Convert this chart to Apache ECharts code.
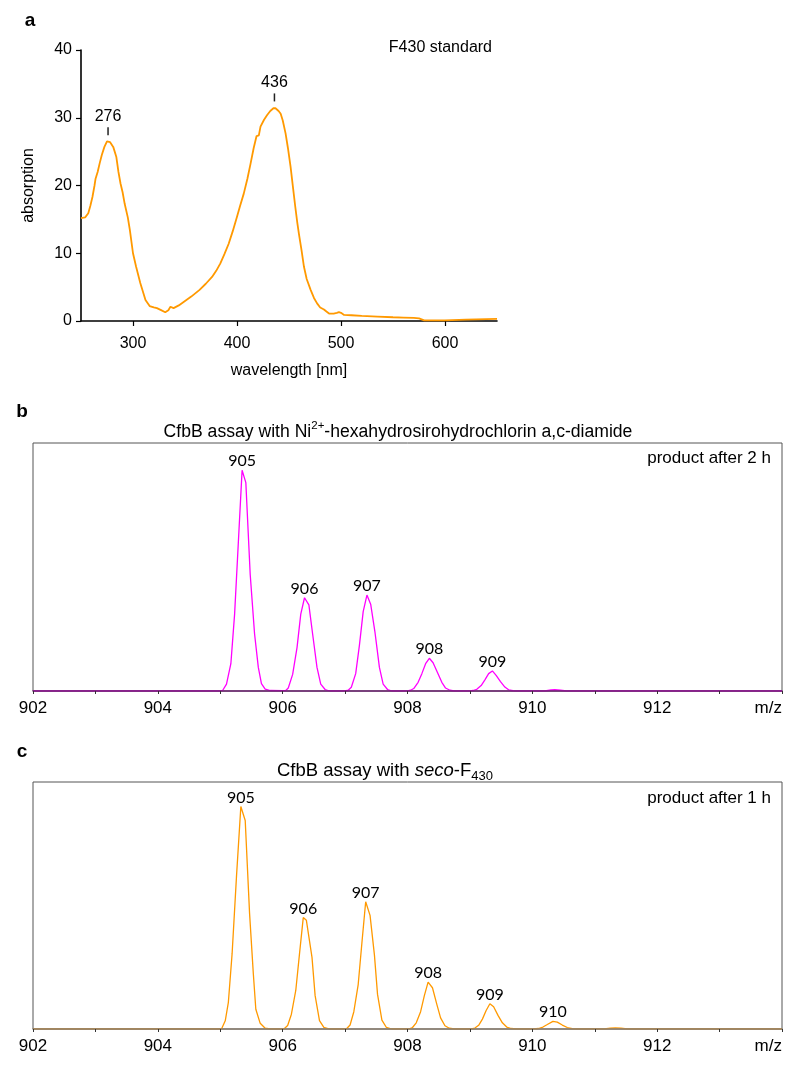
<!DOCTYPE html>
<html><head><meta charset="utf-8">
<script src="https://cdn.jsdelivr.net/npm/echarts@6/dist/echarts.min.js"></script>
<style>html,body{margin:0;padding:0;background:#fff}#c{width:800px;height:1074px}</style>
</head><body><div id="c"></div>
<script>
// ---------- Panel a: UV-vis spectrum (wavelength nm, absorption) ----------
const spectrumA = [
 [250,15.2],[254,15.3],[257,15.9],[259,17.0],[261,18.3],[263,20.0],[264,21.0],[266,22.0],[268,23.3],[270,24.5],
 [272.5,25.7],[275,26.5],[276,26.6],[278,26.4],[281,25.7],[284,24.2],[286,22.0],[288,20.3],[290,19.0],[292,17.3],
 [295,15.3],[297,13.4],[300,10.0],[303,8.0],[307,5.6],[312,3.1],[316,2.2],[320,2.0],[323,1.9],[327,1.6],
 [331,1.3],[334,1.6],[336,2.1],[337.5,2.3],[339,1.9],[340,1.9],[344,2.3],[349,2.85],[356,3.6],[364,4.6],
 [370,5.5],[376,6.5],[380,7.4],[384,8.5],[388,9.9],[392,11.4],[396,13.3],[400,15.4],[403,17.0],[406.5,18.8],
 [410,21.0],[413,23.2],[416,25.5],[418.8,27.3],[420,27.4],[421,27.4],[422.6,28.7],[426,29.7],[429,30.4],[432,31.0],
 [435,31.4],[437,31.4],[440,31.0],[442,30.6],[444,29.6],[446.7,27.7],[449,25.5],[451.5,22.8],[454,19.5],[456,16.9],
 [458,14.5],[459.5,12.9],[462,10.5],[464.4,8.0],[467,6.2],[470.8,4.6],[474,3.4],[477,2.6],[480,2.0],[483.6,1.7],
 [486,1.4],[488.5,1.1],[491,1.1],[493,1.1],[496,1.2],[498,1.3],[500,1.2],[503,0.9],[510,0.85],[520,0.75],
 [535,0.65],[550,0.55],[560,0.5],[570,0.45],[575,0.4],[580,0.1],[590,0.1],[600,0.1],[620,0.2],[650,0.3]
];
const peaksA = [[276, 28.0, '276'], [436, 33.0, '436']];
const xTicksA = [300, 400, 500, 600];

// ---------- Panel b: MS, product after 2 h (m/z, relative intensity) ----------
const spectrumB = [
 [902,0],[905.0,0],
 [905.04,0.3],[905.10,2.8],[905.17,11],[905.23,31],[905.29,60],[905.35,89],[905.41,84],[905.48,47],[905.55,23],[905.61,9.5],[905.66,3],[905.72,0.8],[905.80,0.2],[906.0,0.1],
 [906.05,0.2],[906.09,1.2],[906.16,6.7],[906.23,17.5],[906.29,31],[906.35,37.6],[906.42,34.7],[906.48,23],[906.55,9.5],[906.61,2.8],[906.68,0.6],[906.75,0],
 [907.0,0],[907.05,0.3],[907.10,1.5],[907.17,7],[907.23,18.5],[907.29,32],[907.35,38.7],[907.41,35],[907.48,23.5],[907.55,9.5],[907.61,2.8],[907.68,0.6],[907.75,0],
 [908.0,0],[908.05,0.3],[908.10,1],[908.17,3.5],[908.23,7],[908.29,11],[908.35,13.2],[908.41,11.4],[908.48,7.5],[908.55,3.5],[908.61,1.2],[908.68,0.3],[908.75,0],
 [909.0,0],[909.05,0.2],[909.11,0.7],[909.18,2.2],[909.24,4.5],[909.30,7],[909.36,8.1],[909.42,6.3],[909.49,3.8],[909.56,1.6],[909.62,0.5],[909.69,0.1],[909.76,0],
 [910.2,0],[910.3,0.4],[910.36,0.5],[910.45,0.3],[910.55,0],[914,0]
];
const peaksB = [[905.35,89,'905'],[906.35,37.6,'906'],[907.35,38.7,'907'],[908.35,13.2,'908'],[909.36,8.1,'909']];

// ---------- Panel c: MS, product after 1 h ----------
const spectrumC = [
 [902,0],[905.02,0],
 [905.08,3.3],[905.13,10.8],[905.19,30.5],[905.26,61.7],[905.33,90.1],[905.40,84.4],[905.47,46.7],[905.53,22.4],[905.57,8],[905.64,2.3],[905.72,0.3],[905.8,0],
 [906.02,0],[906.08,1.4],[906.14,6],[906.21,15.6],[906.27,30.5],[906.33,45.1],[906.38,44],[906.47,29],[906.52,13.5],[906.59,3.4],[906.66,0.7],[906.75,0],
 [907.02,0],[907.08,1.6],[907.14,7],[907.21,18],[907.27,35],[907.33,51.5],[907.40,46],[907.47,30],[907.52,14],[907.59,3.6],[907.66,0.7],[907.75,0],
 [908.02,0],[908.08,0.6],[908.14,2.5],[908.21,7],[908.27,13.5],[908.33,19],[908.40,16.7],[908.47,10],[908.53,4.5],[908.60,1.3],[908.67,0.3],[908.75,0],
 [909.02,0],[909.08,0.4],[909.14,1.5],[909.20,4],[909.26,7.5],[909.32,10.2],[909.38,9],[909.45,5.5],[909.52,2.5],[909.59,0.8],[909.66,0.2],[909.75,0],
 [910.02,0],[910.10,0.2],[910.17,0.8],[910.24,1.8],[910.33,3.1],[910.40,2.8],[910.48,1.6],[910.56,0.6],[910.64,0.1],[910.72,0],
 [911.15,0],[911.25,0.3],[911.33,0.45],[911.42,0.3],[911.52,0],[914,0]
];
const peaksC = [[905.33,90.1,'905'],[906.33,45.1,'906'],[907.33,51.5,'907'],[908.33,19,'908'],[909.32,10.2,'909'],[910.33,3.1,'910']];

const ARIAL = "'Liberation Sans', Arial, sans-serif";
const CALIBRI = "Lato, 'Open Sans', sans-serif";
const ORANGE = '#FF9900';
const MAGENTA = '#FF00FF';

function msXAxis(gridIndex, axisColor) {
  return {
    type: 'value', gridIndex, min: 902, max: 914, interval: 2, z: 5,
    axisLine: { show: true, onZero: false, lineStyle: { color: axisColor, width: 1.5 } },
    axisTick: { show: true, length: 3, inside: false, lineStyle: { color: '#333' } },
    minorTick: { show: true, splitNumber: 2, length: 3, lineStyle: { color: '#333' } },
    splitLine: { show: false }, minorSplitLine: { show: false },
    axisLabel: { color: '#000', fontFamily: ARIAL, fontSize: 17, margin: 9, alignMaxLabel: 'right',
      formatter: v => (v === 914 ? 'm/z' : String(v)) }
  };
}
function msYAxis(gridIndex) {
  return { type: 'value', gridIndex, min: 0, max: 100, show: false, splitLine: { show: false } };
}
function peakLabels(data, xi, yi, dist) {
  return {
    type: 'scatter', xAxisIndex: xi, yAxisIndex: yi, symbolSize: 0, silent: true,
    itemStyle: { color: '#000', opacity: 1 }, z: 6,
    data: data.map(p => [p[0], p[1]]),
    label: { show: true, position: 'top', distance: dist, color: '#000', opacity: 1, fontFamily: CALIBRI, fontSize: 16,
      formatter: p => data[p.dataIndex][2] }
  };
}

const chart = echarts.init(document.getElementById('c'), null, { renderer: 'canvas' });
chart.setOption({
  animation: false,
  backgroundColor: '#fff',
  grid: [
    { left: 81, top: 50, width: 416, height: 271, show: false },
    { left: 33, top: 443, width: 749, height: 248, show: true, borderColor: '#555', borderWidth: 1 },
    { left: 33, top: 782, width: 749, height: 247, show: true, borderColor: '#555', borderWidth: 1 }
  ],
  xAxis: [
    {
      type: 'value', gridIndex: 0, min: 250, max: 650,
      name: 'wavelength [nm]', nameLocation: 'middle', nameGap: 42,
      nameTextStyle: { fontFamily: ARIAL, fontSize: 16, color: '#000' },
      axisLine: { show: true, onZero: false, lineStyle: { color: '#000', width: 1.6 } },
      axisTick: { show: true, length: 5, customValues: xTicksA, lineStyle: { color: '#000', width: 1.2 } },
      axisLabel: { customValues: xTicksA, fontFamily: ARIAL, fontSize: 16, color: '#000', margin: 15 },
      splitLine: { show: false }
    },
    msXAxis(1, '#6a1f6e'),
    msXAxis(2, '#8a7f70')
  ],
  yAxis: [
    {
      type: 'value', gridIndex: 0, min: 0, max: 40, interval: 10,
      name: 'absorption', nameLocation: 'middle', nameGap: 44, nameRotate: 90,
      nameTextStyle: { fontFamily: ARIAL, fontSize: 16, color: '#000' },
      axisLine: { show: true, onZero: false, lineStyle: { color: '#000', width: 1.6 } },
      axisTick: { show: true, length: 5, lineStyle: { color: '#000', width: 1.2 } },
      axisLabel: { fontFamily: ARIAL, fontSize: 16, color: '#000', margin: 9 },
      splitLine: { show: false }
    },
    msYAxis(1),
    msYAxis(2)
  ],
  series: [
    { type: 'line', xAxisIndex: 0, yAxisIndex: 0, data: spectrumA, showSymbol: false, symbol: 'none',
      lineStyle: { color: ORANGE, width: 1.8 }, silent: true },
    { type: 'scatter', xAxisIndex: 0, yAxisIndex: 0, symbol: 'rect', symbolSize: [1.5, 8], silent: true,
      itemStyle: { color: '#222', opacity: 1 },
      data: peaksA.map(p => [p[0], p[1]]),
      label: { show: true, position: 'top', distance: 3, color: '#000', opacity: 1, fontFamily: ARIAL, fontSize: 16,
        formatter: p => peaksA[p.dataIndex][2] } },
    { type: 'line', xAxisIndex: 1, yAxisIndex: 1, data: spectrumB, showSymbol: false, symbol: 'none',
      lineStyle: { color: MAGENTA, width: 1.3 }, silent: true },
    peakLabels(peaksB, 1, 1, 1),
    { type: 'line', xAxisIndex: 2, yAxisIndex: 2, data: spectrumC, showSymbol: false, symbol: 'none',
      lineStyle: { color: ORANGE, width: 1.3 }, silent: true },
    peakLabels(peaksC, 2, 2, 1)
  ],
  graphic: [
    { type: 'text', x: 30, y: 21, style: { text: 'a', font: "bold 19px " + ARIAL, fill: '#000', textAlign: 'center', textVerticalAlign: 'middle' } },
    { type: 'text', x: 492, y: 48, style: { text: 'F430 standard', font: "16px " + ARIAL, fill: '#000', textAlign: 'right', textVerticalAlign: 'middle' } },
    { type: 'text', x: 22, y: 412, style: { text: 'b', font: "bold 19px " + ARIAL, fill: '#000', textAlign: 'center', textVerticalAlign: 'middle' } },
    { type: 'text', x: 398, y: 432, style: {
        text: 'CfbB assay with Ni{sup|2+}-hexahydrosirohydrochlorin a,c-diamide',
        font: "17.6px " + ARIAL, fill: '#000', textAlign: 'center', textVerticalAlign: 'middle', lineHeight: 24,
        rich: { sup: { fontSize: 11.5, fontFamily: ARIAL, verticalAlign: 'top', lineHeight: 12 } } } },
    { type: 'text', x: 771, y: 458, style: { text: 'product after 2 h', font: "17px " + ARIAL, fill: '#000', textAlign: 'right', textVerticalAlign: 'middle' } },
    { type: 'text', x: 22, y: 752, style: { text: 'c', font: "bold 19px " + ARIAL, fill: '#000', textAlign: 'center', textVerticalAlign: 'middle' } },
    { type: 'text', x: 385, y: 771, style: {
        text: 'CfbB assay with {it|seco}-F{sub|430}',
        font: "18.5px " + ARIAL, fill: '#000', textAlign: 'center', textVerticalAlign: 'middle', lineHeight: 24,
        rich: { it: { fontStyle: 'italic', fontSize: 18.5, fontFamily: ARIAL },
                sub: { fontSize: 13, fontFamily: ARIAL, verticalAlign: 'bottom', lineHeight: 12 } } } },
    { type: 'text', x: 771, y: 798, style: { text: 'product after 1 h', font: "17px " + ARIAL, fill: '#000', textAlign: 'right', textVerticalAlign: 'middle' } }
  ]
});
</script>
</body></html>
